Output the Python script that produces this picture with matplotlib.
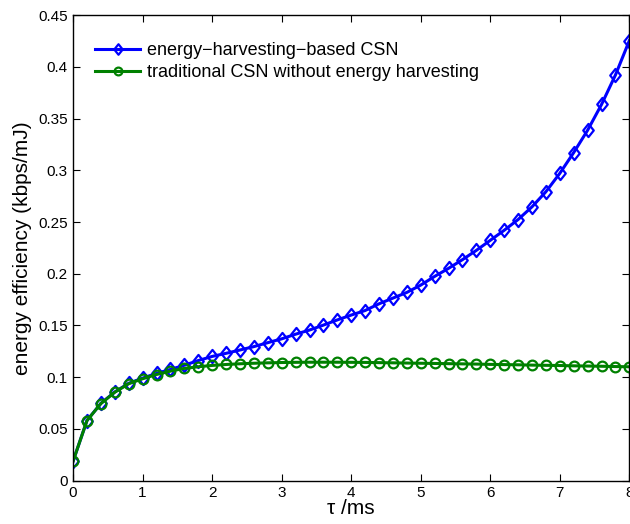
import numpy as np
import matplotlib
matplotlib.use('Agg')
import matplotlib.pyplot as plt
from matplotlib.path import Path

plt.rcParams['font.family'] = ['Liberation Sans', 'DejaVu Sans']

# tau (ms), sampled every 0.2 ms
tau = np.round(np.arange(0, 8.01, 0.2), 1)

# energy efficiency (kbps/mJ)
eh_csn = [0.0187, 0.0580, 0.0746, 0.0856, 0.0940, 0.0990, 0.1036, 0.1074, 0.1115,
          0.1160, 0.1200, 0.1230, 0.1262, 0.1295, 0.1333, 0.1370, 0.1415, 0.1455,
          0.1503, 0.1553, 0.1600, 0.1644, 0.1709, 0.1764, 0.1819, 0.1890, 0.1974,
          0.2052, 0.2136, 0.2226, 0.2323, 0.2420, 0.2524, 0.2647, 0.2793, 0.2971,
          0.3172, 0.3388, 0.3637, 0.3922, 0.4255]
trad_csn = [0.0187, 0.0580, 0.0744, 0.0854, 0.0936, 0.0984, 0.1025, 0.1058, 0.1084,
            0.1100, 0.1113, 0.1122, 0.1129, 0.1134, 0.1138, 0.1141, 0.1143, 0.1144,
            0.1144, 0.1144, 0.1143, 0.1142, 0.1140, 0.1138, 0.1136, 0.1134, 0.1132,
            0.1130, 0.1128, 0.1126, 0.1123, 0.1121, 0.1119, 0.1116, 0.1114, 0.1112,
            0.1109, 0.1107, 0.1105, 0.1102, 0.1100]

# matlab-like diamond, a bit narrower than tall
diamond = Path([(0, 1), (0.8, 0), (0, -1), (-0.8, 0), (0, 1)],
               [Path.MOVETO, Path.LINETO, Path.LINETO, Path.LINETO, Path.CLOSEPOLY])

fig = plt.figure(figsize=(6.3, 5.24), dpi=100)
ax = fig.add_axes([0.116, 0.083, 0.883, 0.888])

ax.plot(tau, eh_csn, color='#0000ff', lw=2.2, marker=diamond, ms=9.5, mfc='none', mew=1.6,
        label='energy\u2212harvesting\u2212based CSN')
ax.plot(tau, trad_csn, color='#008000', lw=2.2, marker='o', ms=7, mfc='none', mew=1.6,
        label='traditional CSN without energy harvesting')

ax.set_xlim(0, 8)
ax.set_ylim(0, 0.45)
ax.set_xticks(range(0, 9))
ax.set_yticks(np.arange(0, 0.451, 0.05))
ax.set_yticklabels(['0', '0.05', '0.1', '0.15', '0.2', '0.25', '0.3', '0.35', '0.4', '0.45'])
ax.tick_params(direction='in', top=True, right=True, length=5, labelsize=11, pad=4)
for s in ax.spines.values():
    s.set_linewidth(1)

ax.set_xlabel('\u03c4 /ms', fontsize=15, labelpad=-1)
ax.set_ylabel('energy efficiency (kbps/mJ)', fontsize=15, labelpad=4)

ax.legend(loc='upper left', bbox_to_anchor=(0.027, 0.958), borderaxespad=0,
          frameon=False, fontsize=13, handlelength=2.5, handletextpad=0.35,
          labelspacing=0.29, markerscale=0.8)

fig.savefig('out.png', dpi=100)
